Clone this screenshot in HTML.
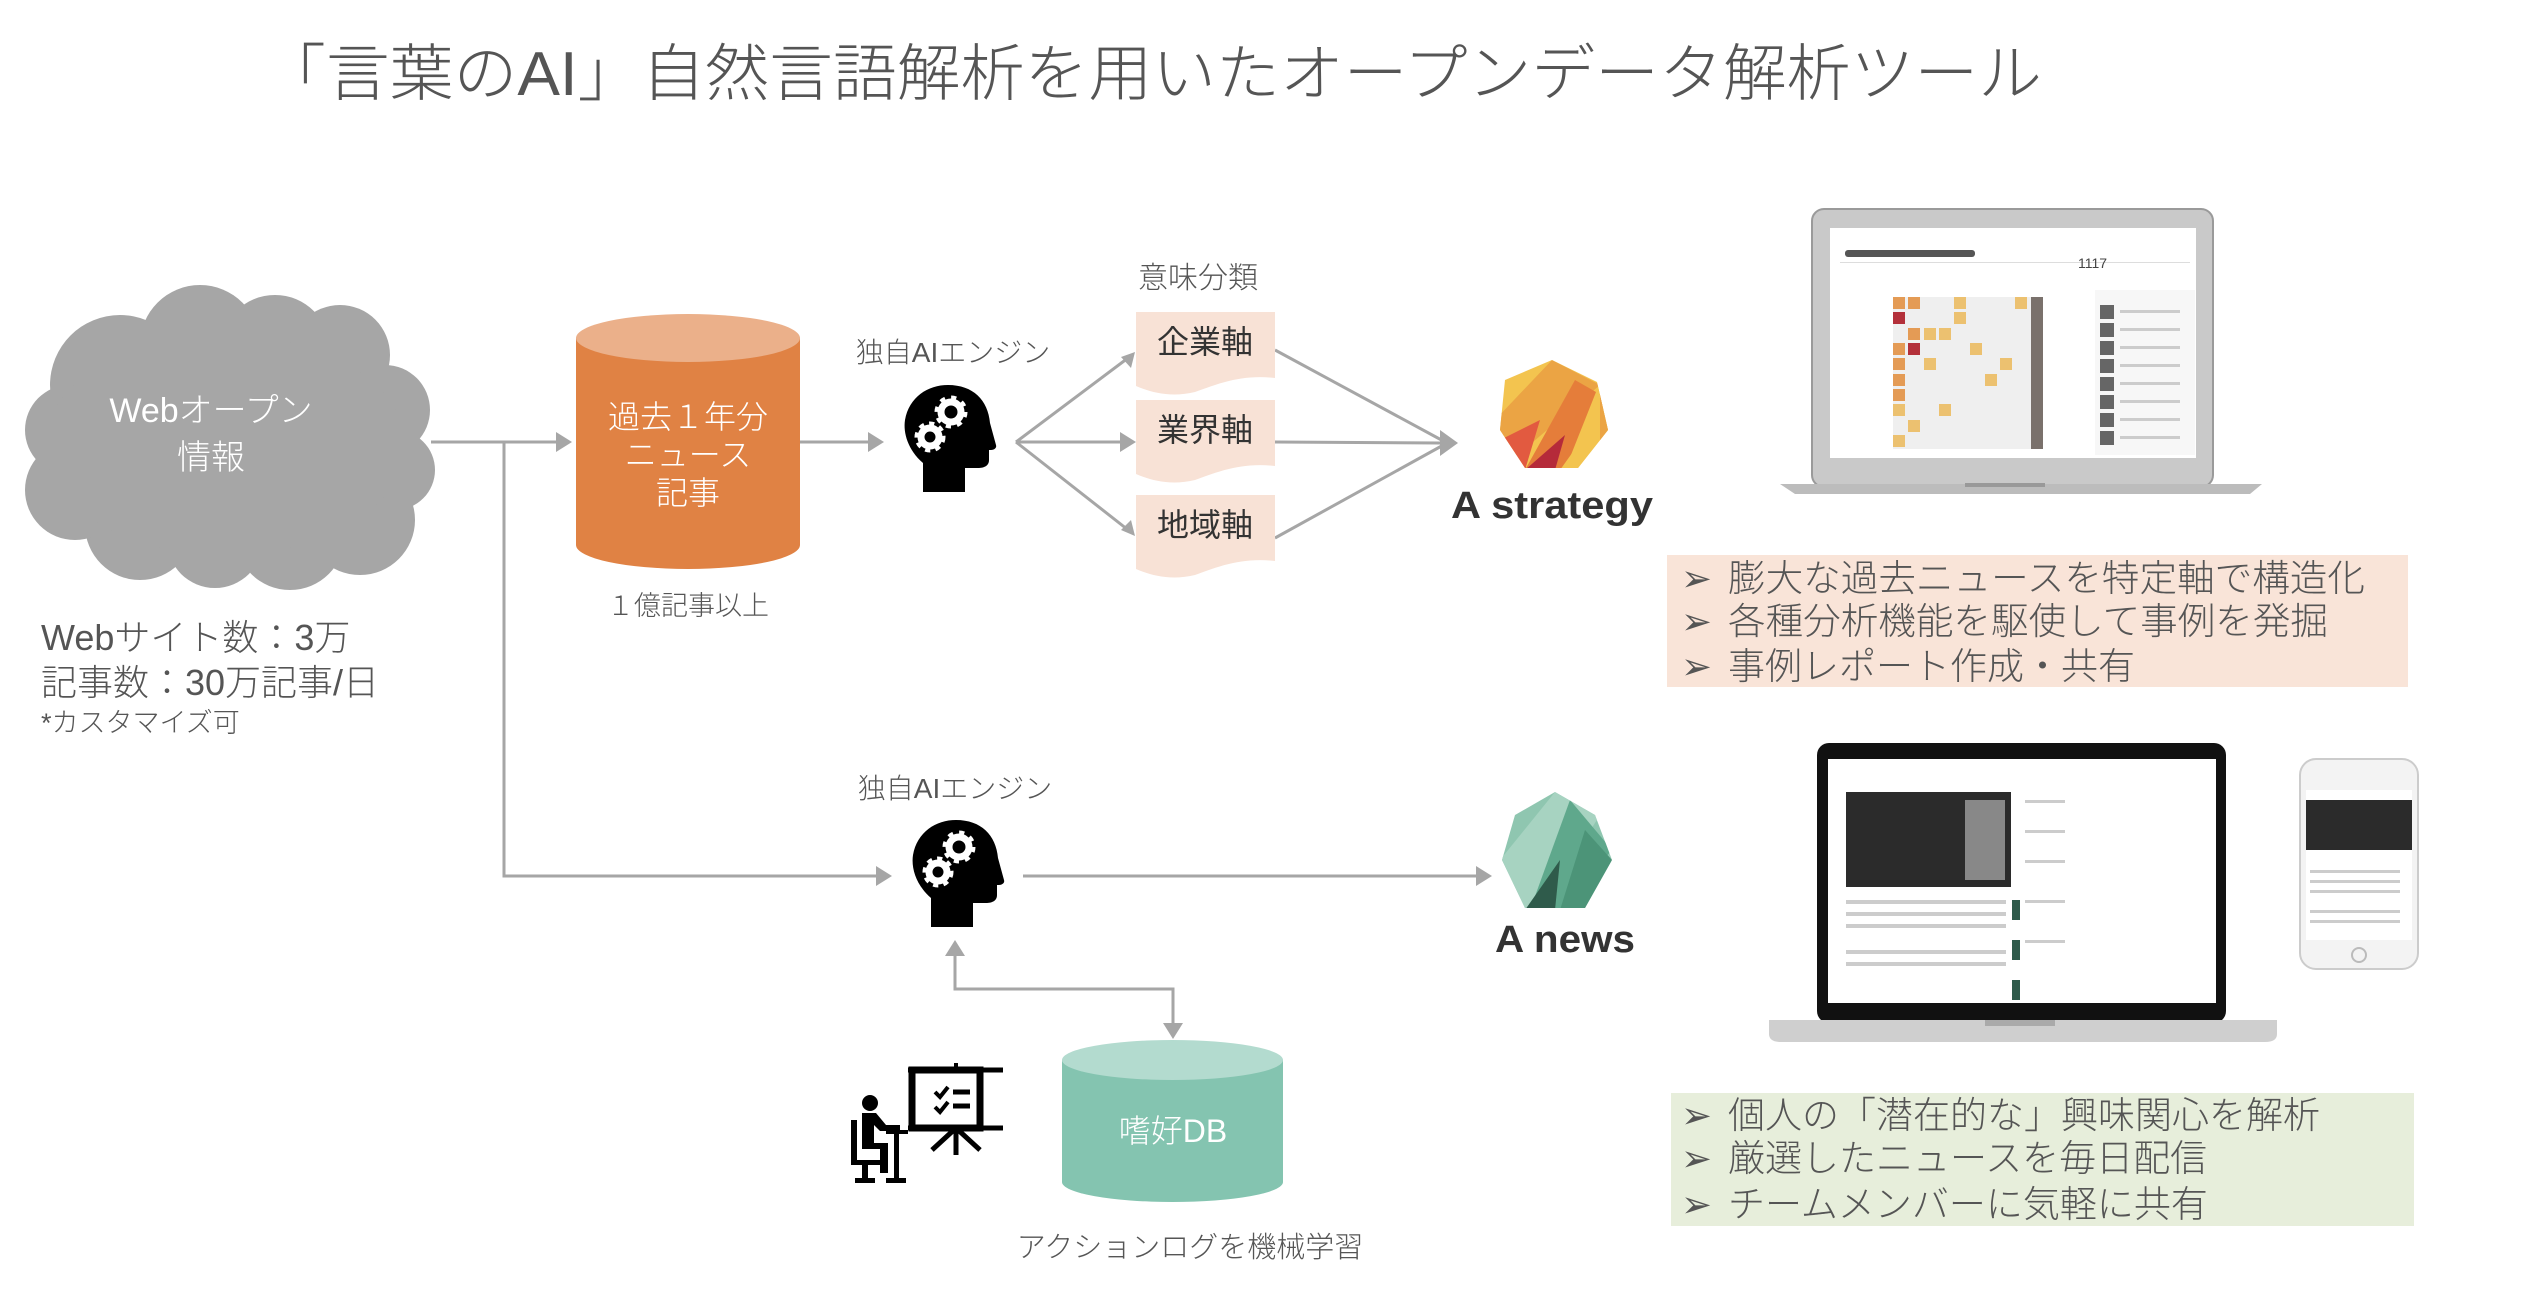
<!DOCTYPE html>
<html><head><meta charset="utf-8"><style>
html,body{margin:0;padding:0;background:#fff;}
svg{display:block;}
text{font-family:"Liberation Sans","Noto Sans CJK JP",sans-serif;}
.t{fill:#555;font-weight:300;}
</style></head><body>
<svg width="2526" height="1290" viewBox="0 0 2526 1290" xmlns="http://www.w3.org/2000/svg">
<defs>
<clipPath id="hep"><polygon points="1552,360 1597,382 1608,430 1578,468 1525,468 1500,430 1505,380"/></clipPath>
<clipPath id="hep2"><polygon points="1555,792 1595,815 1612,860 1585,908 1525,908 1502,860 1515,815"/></clipPath>
</defs>

<!-- Title -->
<text x="262" y="95" font-size="62" class="t" fill="#505050" textLength="1780" lengthAdjust="spacingAndGlyphs">「言葉のAI」自然言語解析を用いたオープンデータ解析ツール</text>

<!-- Cloud -->
<g fill="#a6a6a6">
<circle cx="120" cy="385" r="70"/><circle cx="200" cy="345" r="60"/><circle cx="275" cy="350" r="55"/>
<circle cx="340" cy="355" r="50"/><circle cx="385" cy="410" r="45"/><circle cx="395" cy="470" r="40"/>
<circle cx="360" cy="520" r="55"/><circle cx="290" cy="535" r="55"/><circle cx="215" cy="540" r="48"/>
<circle cx="140" cy="525" r="55"/><circle cx="75" cy="490" r="50"/><circle cx="70" cy="430" r="45"/>
<ellipse cx="225" cy="445" rx="180" ry="110"/>
</g>
<text x="211" y="422" font-size="34" fill="#fff" text-anchor="middle" font-weight="300">Webオープン</text>
<text x="211" y="469" font-size="34" fill="#fff" text-anchor="middle" font-weight="300">情報</text>

<text x="41" y="650" font-size="36" class="t">Webサイト数：3万</text>
<text x="41" y="695" font-size="36" class="t">記事数：30万記事/日</text>
<text x="41" y="732" font-size="27" class="t">*カスタマイズ可</text>

<!-- connectors -->
<g stroke="#a6a6a6" stroke-width="3" fill="none">
<line x1="431" y1="442" x2="560" y2="442"/>
<polyline points="504,442 504,876 880,876"/>
<line x1="800" y1="442" x2="872" y2="442"/>
<line x1="1016" y1="442" x2="1132" y2="355"/>
<line x1="1016" y1="442" x2="1124" y2="442"/>
<line x1="1016" y1="442" x2="1132" y2="533"/>
<line x1="1275" y1="350" x2="1447" y2="443"/>
<line x1="1275" y1="442" x2="1440" y2="443"/>
<line x1="1275" y1="538" x2="1447" y2="443"/>
<line x1="1023" y1="876" x2="1480" y2="876"/>
<polyline points="955,952 955,989 1173,989 1173,1025"/>
</g>
<g fill="#a6a6a6">
<polygon points="572,442 556,432 556,452"/>
<polygon points="884,442 868,432 868,452"/>
<polygon points="1135,352 1121,357 1131,368"/>
<polygon points="1136,442 1120,432 1120,452"/>
<polygon points="1135,536 1131,520 1121,530"/>
<polygon points="1458,443 1440,430 1440,456"/>
<polygon points="892,876 876,866 876,886"/>
<polygon points="1492,876 1476,866 1476,886"/>
<polygon points="955,940 945,956 965,956"/>
<polygon points="1173,1039 1163,1023 1183,1023"/>
</g>

<!-- Orange cylinder -->
<path d="M576,338 L576,545 A112,24 0 0 0 800,545 L800,338 Z" fill="#e08244"/>
<ellipse cx="688" cy="338" rx="112" ry="24" fill="#ebb08a"/>
<text x="688" y="428" font-size="32" fill="#fff" text-anchor="middle" font-weight="300">過去１年分</text>
<text x="688" y="466" font-size="32" fill="#fff" text-anchor="middle" font-weight="300">ニュース</text>
<text x="688" y="504" font-size="32" fill="#fff" text-anchor="middle" font-weight="300">記事</text>
<text x="688" y="615" font-size="27" class="t" text-anchor="middle">１億記事以上</text>

<!-- Brain 1 -->
<text x="953" y="362" font-size="28" class="t" text-anchor="middle">独自AIエンジン</text>
<g transform="translate(903,385)">
<path d="M20 107 L20 78 C5 65 0 48 2 35 C6 12 25 0 45 0 C70 0 85 15 87 38 L93 60 C94 63 91 65 88 65 L86 65 L86 75 C86 81 81 83 75 83 L62 83 L62 107 Z" fill="#000"/>
<circle cx="48" cy="27" r="10" fill="none" stroke="#fff" stroke-width="7"/>
<circle cx="48" cy="27" r="14" fill="none" stroke="#fff" stroke-width="5" stroke-dasharray="5 6"/>
<circle cx="27" cy="52" r="9" fill="none" stroke="#fff" stroke-width="7"/>
<circle cx="27" cy="52" r="13" fill="none" stroke="#fff" stroke-width="5" stroke-dasharray="5 5"/>
</g>

<!-- semantic boxes -->
<text x="1198" y="288" font-size="30" class="t" text-anchor="middle">意味分類</text>
<g fill="#f8e2d6">
<path d="M1136,312 H1275 V378 C1240,374 1215,385 1195,392 C1170,398 1150,392 1136,386 Z"/>
<path d="M1136,400 H1275 V466 C1240,462 1215,473 1195,480 C1170,486 1150,480 1136,474 Z"/>
<path d="M1136,495 H1275 V561 C1240,557 1215,568 1195,575 C1170,581 1150,575 1136,569 Z"/>
</g>
<text x="1205" y="353" font-size="32" fill="#333" text-anchor="middle">企業軸</text>
<text x="1205" y="441" font-size="32" fill="#333" text-anchor="middle">業界軸</text>
<text x="1205" y="536" font-size="32" fill="#333" text-anchor="middle">地域軸</text>

<!-- A strategy logo -->
<g clip-path="url(#hep)">
<rect x="1495" y="355" width="120" height="120" fill="#f3c44f"/>
<polygon points="1552,360 1600,385 1500,470 1495,420" fill="#eba444"/>
<polygon points="1575,380 1610,400 1560,470 1525,470" fill="#e57d3a"/>
<polygon points="1540,420 1525,470 1505,460 1500,440" fill="#e25a40"/>
<polygon points="1565,435 1555,470 1525,470" fill="#b52a3a"/>
<polygon points="1600,382 1615,440 1585,470 1565,470" fill="#f3c44f"/>
<polygon points="1600,382 1615,440 1600,460" fill="#eba444"/>
</g>
<text x="1552" y="518" font-size="38" font-weight="bold" fill="#333" text-anchor="middle" textLength="202" lengthAdjust="spacingAndGlyphs">A strategy</text>

<!-- Laptop 1 -->
<rect x="1812" y="209" width="401" height="278" rx="12" fill="#c9c9c9" stroke="#9a9a9a" stroke-width="2"/>
<rect x="1830" y="228" width="366" height="230" fill="#fff"/>
<path d="M1780,484 H2262 L2250,494 H1795 Z" fill="#bcbcbc"/>
<rect x="1965" y="483" width="80" height="4" fill="#999"/>
<rect x="1845" y="250" width="130" height="7" rx="3" fill="#555"/>
<rect x="1840" y="262" width="350" height="1" fill="#ddd"/>
<text x="2078" y="268" font-size="14" fill="#444">1117</text>
<g fill="#efefef">
<rect x="1893" y="297" width="150" height="152"/>
</g>
<g fill="#e49b55"><rect x="1893" y="297" width="12" height="12"/><rect x="1893" y="343" width="12" height="12"/><rect x="1893" y="358" width="12" height="12"/><rect x="1893" y="374" width="12" height="12"/><rect x="1893" y="389" width="12" height="12"/><rect x="1908" y="297" width="12" height="12"/><rect x="1908" y="328" width="12" height="12"/></g>
<g fill="#ecc170"><rect x="1954" y="297" width="12" height="12"/><rect x="1954" y="312" width="12" height="12"/><rect x="1924" y="328" width="12" height="12"/><rect x="1939" y="328" width="12" height="12"/><rect x="1970" y="343" width="12" height="12"/><rect x="2015" y="297" width="12" height="12"/><rect x="1924" y="358" width="12" height="12"/><rect x="1985" y="374" width="12" height="12"/><rect x="1893" y="404" width="12" height="12"/><rect x="1908" y="420" width="12" height="12"/><rect x="1939" y="404" width="12" height="12"/><rect x="1893" y="435" width="12" height="12"/><rect x="2000" y="358" width="12" height="12"/></g>
<g fill="#b3303a"><rect x="1893" y="312" width="12" height="12"/><rect x="1908" y="343" width="12" height="12"/></g>
<g fill="#7a716c"><rect x="2031" y="297" width="12" height="152"/></g>
<rect x="2095" y="290" width="100" height="165" fill="#f7f7f7"/>
<g fill="#666"><rect x="2100" y="305" width="14" height="14"/><rect x="2100" y="323" width="14" height="14"/><rect x="2100" y="341" width="14" height="14"/><rect x="2100" y="359" width="14" height="14"/><rect x="2100" y="377" width="14" height="14"/><rect x="2100" y="395" width="14" height="14"/><rect x="2100" y="413" width="14" height="14"/><rect x="2100" y="431" width="14" height="14"/></g>
<g fill="#ccc"><rect x="2120" y="310" width="60" height="3"/><rect x="2120" y="328" width="60" height="3"/><rect x="2120" y="346" width="60" height="3"/><rect x="2120" y="364" width="60" height="3"/><rect x="2120" y="382" width="60" height="3"/><rect x="2120" y="400" width="60" height="3"/><rect x="2120" y="418" width="60" height="3"/><rect x="2120" y="436" width="60" height="3"/></g>

<!-- peach bullet box -->
<rect x="1667" y="555" width="741" height="132" fill="#f9e4d8"/>
<g font-size="37" class="t" fill="#444">
<text x="1681" y="591">➢</text><text x="1728" y="591" textLength="637" lengthAdjust="spacingAndGlyphs">膨大な過去ニュースを特定軸で構造化</text>
<text x="1681" y="634">➢</text><text x="1728" y="634" textLength="600" lengthAdjust="spacingAndGlyphs">各種分析機能を駆使して事例を発掘</text>
<text x="1681" y="679">➢</text><text x="1728" y="679">事例レポート作成・共有</text>
</g>

<!-- Brain 2 -->
<text x="955" y="798" font-size="28" class="t" text-anchor="middle">独自AIエンジン</text>
<g transform="translate(911,820)">
<path d="M20 107 L20 78 C5 65 0 48 2 35 C6 12 25 0 45 0 C70 0 85 15 87 38 L93 60 C94 63 91 65 88 65 L86 65 L86 75 C86 81 81 83 75 83 L62 83 L62 107 Z" fill="#000"/>
<circle cx="48" cy="27" r="10" fill="none" stroke="#fff" stroke-width="7"/>
<circle cx="48" cy="27" r="14" fill="none" stroke="#fff" stroke-width="5" stroke-dasharray="5 6"/>
<circle cx="27" cy="52" r="9" fill="none" stroke="#fff" stroke-width="7"/>
<circle cx="27" cy="52" r="13" fill="none" stroke="#fff" stroke-width="5" stroke-dasharray="5 5"/>
</g>

<!-- A news logo -->
<g clip-path="url(#hep2)">
<rect x="1495" y="785" width="125" height="130" fill="#8fc6b0"/>
<polygon points="1555,792 1600,815 1540,910 1500,905 1500,860" fill="#a7d3c1"/>
<polygon points="1570,800 1612,850 1560,910 1530,910" fill="#5fa88c"/>
<polygon points="1585,830 1612,860 1590,910 1560,910" fill="#4c9478"/>
<polygon points="1560,860 1555,910 1525,910" fill="#2f5b4b"/>
</g>
<text x="1565" y="952" font-size="38" font-weight="bold" fill="#333" text-anchor="middle" textLength="140" lengthAdjust="spacingAndGlyphs">A news</text>

<!-- Laptop 2 -->
<rect x="1817" y="743" width="409" height="280" rx="12" fill="#111"/>
<rect x="1828" y="759" width="388" height="244" fill="#fff"/>
<rect x="1846" y="792" width="165" height="95" fill="#2b2b2b"/>
<rect x="1965" y="800" width="40" height="80" fill="#888"/>
<g fill="#ccc"><rect x="1846" y="900" width="160" height="4"/><rect x="1846" y="912" width="160" height="4"/><rect x="1846" y="924" width="160" height="4"/><rect x="1846" y="950" width="160" height="4"/><rect x="1846" y="962" width="160" height="4"/><rect x="2025" y="800" width="40" height="3"/><rect x="2025" y="830" width="40" height="3"/><rect x="2025" y="860" width="40" height="3"/><rect x="2025" y="900" width="40" height="3"/><rect x="2025" y="940" width="40" height="3"/></g>
<g fill="#2f5b4b"><rect x="2012" y="900" width="8" height="20"/><rect x="2012" y="940" width="8" height="20"/><rect x="2012" y="980" width="8" height="20"/></g>
<path d="M1769,1020 H2277 V1034 Q2277,1042 2265,1042 H1781 Q1769,1042 1769,1034 Z" fill="#cfcfcf"/>
<rect x="1985" y="1020" width="70" height="6" fill="#aaa"/>
<!-- phone -->
<rect x="2300" y="759" width="118" height="210" rx="16" fill="#f3f3f3" stroke="#ccc" stroke-width="2"/>
<rect x="2306" y="790" width="106" height="150" fill="#fff"/>
<rect x="2306" y="800" width="106" height="50" fill="#2b2b2b"/>
<g fill="#ccc"><rect x="2310" y="870" width="90" height="3"/><rect x="2310" y="880" width="90" height="3"/><rect x="2310" y="890" width="90" height="3"/><rect x="2310" y="910" width="90" height="3"/><rect x="2310" y="920" width="90" height="3"/></g>
<circle cx="2359" cy="955" r="7" fill="none" stroke="#bbb" stroke-width="2"/>

<!-- green bullet box -->
<rect x="1671" y="1093" width="743" height="133" fill="#e7eedb"/>
<g font-size="37" class="t" fill="#444">
<text x="1681" y="1128">➢</text><text x="1728" y="1128">個人の「潜在的な」興味関心を解析</text>
<text x="1681" y="1171">➢</text><text x="1728" y="1171">厳選したニュースを毎日配信</text>
<text x="1681" y="1217">➢</text><text x="1728" y="1217">チームメンバーに気軽に共有</text>
</g>

<!-- teal cylinder -->
<path d="M1062,1060 L1062,1182 A110.5,20 0 0 0 1283,1182 L1283,1060 Z" fill="#84c4b0"/>
<ellipse cx="1172.5" cy="1060" rx="110.5" ry="20" fill="#b3dbcf"/>
<text x="1173" y="1142" font-size="32" fill="#fff" text-anchor="middle" font-weight="300">嗜好DB</text>
<text x="1190" y="1257" font-size="29" class="t" text-anchor="middle">アクションログを機械学習</text>

<!-- person at desk icon -->
<g fill="#000" stroke="#000">
<rect x="912" y="1070" width="68" height="58" fill="none" stroke-width="7"/>
<line x1="908" y1="1070" x2="1003" y2="1070" stroke-width="5"/>
<line x1="908" y1="1128" x2="1003" y2="1128" stroke-width="5"/>
<line x1="956" y1="1063" x2="956" y2="1070" stroke-width="4"/>
<line x1="956" y1="1128" x2="956" y2="1155" stroke-width="5"/>
<line x1="956" y1="1128" x2="932" y2="1150" stroke-width="5"/>
<line x1="956" y1="1128" x2="980" y2="1150" stroke-width="5"/>
<polyline points="935,1092 940,1097 948,1087" fill="none" stroke-width="4"/>
<polyline points="935,1107 940,1112 948,1102" fill="none" stroke-width="4"/>
<line x1="953" y1="1092" x2="970" y2="1092" stroke-width="5"/>
<line x1="953" y1="1106" x2="970" y2="1106" stroke-width="5"/>
<circle cx="870" cy="1103" r="8" stroke="none"/>
<path d="M862,1113 h14 l10,12 h14 v6 h-20 l-6,-6 v18 h14 v30 h-8 v-24 h-18 z" stroke="none"/>
<rect x="851" y="1120" width="6" height="40" stroke="none"/>
<rect x="851" y="1160" width="30" height="5" stroke="none"/>
<rect x="862" y="1163" width="6" height="17" stroke="none"/>
<rect x="855" y="1178" width="20" height="5" stroke="none"/>
<rect x="886" y="1130" width="22" height="4" stroke="none"/>
<rect x="894" y="1130" width="5" height="50" stroke="none"/>
<rect x="886" y="1178" width="20" height="5" stroke="none"/>
</g>
</svg>
</body></html>
